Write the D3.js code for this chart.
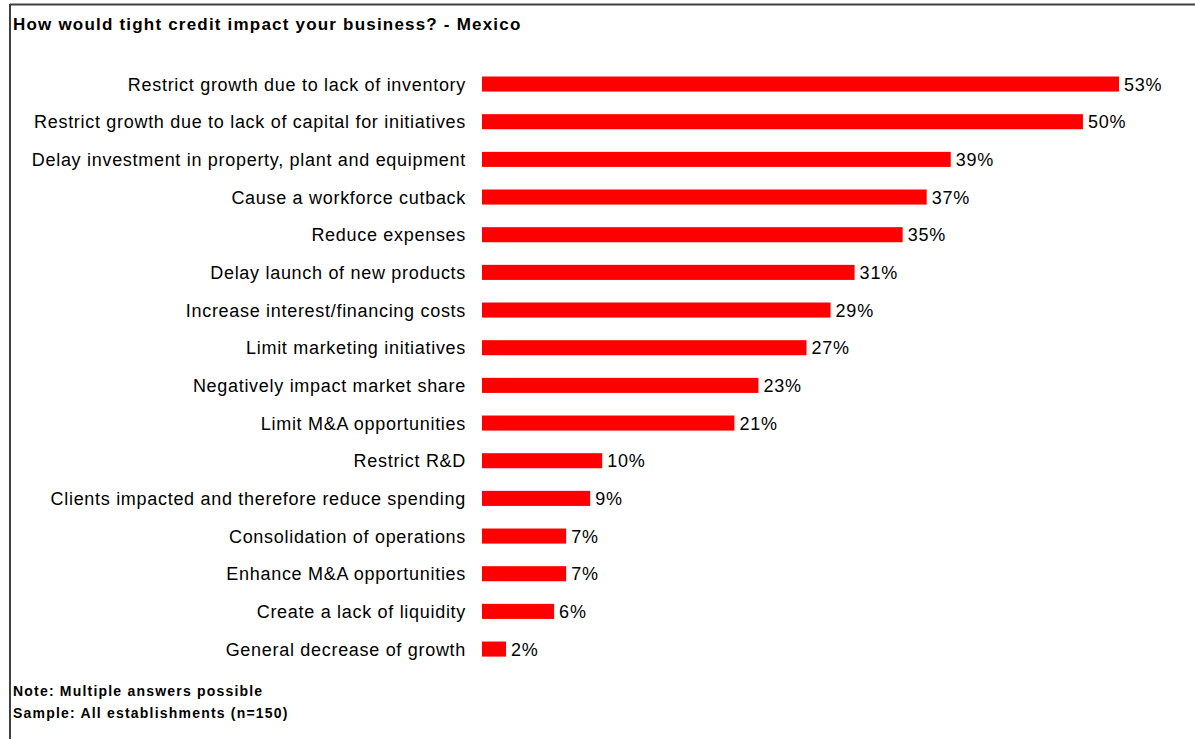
<!DOCTYPE html>
<html>
<head>
<meta charset="utf-8">
<script src="https://cdn.jsdelivr.net/npm/d3@7"></script>
<style>
  html, body { margin: 0; padding: 0; background: #fff; }
  svg { display: block; font-family: Arial, "Liberation Sans", sans-serif; }
</style>
</head>
<body>
<svg id="chart" width="1195" height="739"></svg>
<script>
// Survey answers, top to bottom
const categories = [
  "Restrict growth due to lack of inventory",
  "Restrict growth due to lack of capital for initiatives",
  "Delay investment in property, plant and equipment",
  "Cause a workforce cutback",
  "Reduce expenses",
  "Delay launch of new products",
  "Increase interest/financing costs",
  "Limit marketing initiatives",
  "Negatively impact market share",
  "Limit M&A opportunities",
  "Restrict R&D",
  "Clients impacted and therefore reduce spending",
  "Consolidation of operations",
  "Enhance M&A opportunities",
  "Create a lack of liquidity",
  "General decrease of growth"
];
const shares = [53, 50, 39, 37, 35, 31, 29, 27, 23, 21, 10, 9, 7, 7, 6, 2];

const titleText = "How would tight credit impact your business? - Mexico";
const notes = ["Note: Multiple answers possible", "Sample: All establishments (n=150)"];

const svg = d3.select("#chart");

// Frame: top and left rules
svg.append("line").attr("x1", 10).attr("x2", 1195).attr("y1", 4.5).attr("y2", 4.5)
  .attr("stroke", "#404040").attr("stroke-width", 2);
svg.append("line").attr("x1", 10).attr("x2", 10).attr("y1", 4).attr("y2", 739)
  .attr("stroke", "#404040").attr("stroke-width", 2);

svg.append("text").attr("x", 13).attr("y", 30)
  .attr("font-size", 17).attr("font-weight", "bold").attr("fill", "#000")
  .attr("letter-spacing", 1.2)
  .text(titleText);

const x = d3.scaleLinear().domain([0, 53]).range([482, 1119]);
const y = d3.scaleBand().domain(categories).range([65.2, 667.9]).paddingInner(0.6).paddingOuter(0.3);

const rows = svg.append("g").selectAll("g")
  .data(categories.map((c, i) => ({ c, v: shares[i] })))
  .join("g");

rows.append("rect")
  .attr("x", x(0))
  .attr("y", d => y(d.c))
  .attr("width", d => x(d.v) - x(0))
  .attr("height", y.bandwidth())
  .attr("fill", "#ff0000");

rows.append("text")
  .attr("x", 466)
  .attr("y", d => y(d.c) + y.bandwidth() / 2)
  .attr("dy", "0.36em")
  .attr("text-anchor", "end")
  .attr("font-size", 18)
  .attr("letter-spacing", 0.7)
  .attr("fill", "#000")
  .text(d => d.c);

rows.append("text")
  .attr("x", d => x(d.v) + 5)
  .attr("y", d => y(d.c) + y.bandwidth() / 2)
  .attr("dy", "0.36em")
  .attr("font-size", 18)
  .attr("letter-spacing", 0.8)
  .attr("fill", "#000")
  .text(d => d.v + "%");

svg.append("g").selectAll("text").data(notes).join("text")
  .attr("x", 13)
  .attr("y", (d, i) => 696 + i * 21.5)
  .attr("font-size", 14)
  .attr("font-weight", "bold")
  .attr("letter-spacing", 1.2)
  .attr("fill", "#000")
  .text(d => d);
</script>
</body>
</html>
